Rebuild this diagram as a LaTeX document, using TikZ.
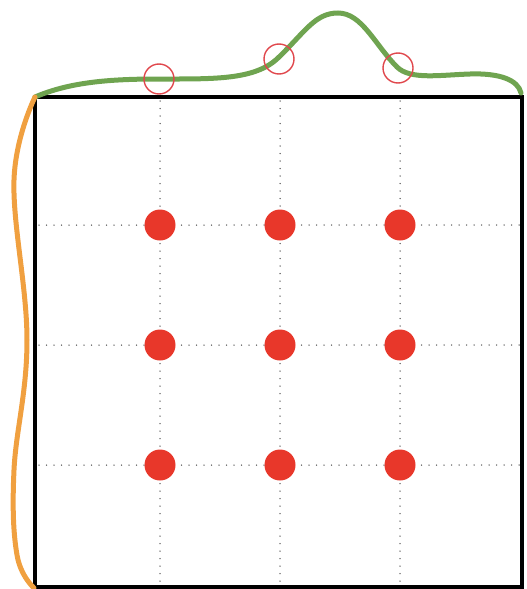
\documentclass[tikz,border=0pt]{standalone}
\usetikzlibrary{calc}
\definecolor{dotred}{HTML}{E8372A}
\definecolor{ringred}{HTML}{E0474C}
\definecolor{curvegreen}{HTML}{6FA450}
\definecolor{curveorange}{HTML}{F0A040}
\definecolor{gridgray}{HTML}{5A5A5A}
\begin{document}
\begin{tikzpicture}[x=1pt,y=-1pt,
  gridline/.style={gridgray,line width=1.5pt,line cap=round,dash pattern=on 0pt off 7.5pt},
  reddot/.style={circle,fill=dotred,inner sep=0pt,minimum size=31pt},
  ring/.style={circle,draw=ringred,line width=1.4pt,inner sep=0pt,minimum size=30pt},
  frame/.style={draw=black,line width=3.4pt},
  gcurve/.style={curvegreen,line width=5pt,line cap=round},
  ocurve/.style={curveorange,line width=5pt,line cap=round}]
\useasboundingbox (0,0) rectangle (527,589);
\coordinate (tl) at (35,97);
\coordinate (br) at (522,587);
% grid
\foreach \x in {160,280,400}
  \draw[gridline] (\x,101) -- (\x,587);
\foreach \y in {225,345,465}
  \draw[gridline] (39,\y) -- (522,\y);
% frame
\draw[frame] (tl) rectangle (br);
% dots
\foreach \x/\i in {160/1,280/2,400/3}
  \foreach \y/\j in {225/1,345/2,465/3}
    \node[reddot] (d\i\j) at (\x,\y) {};
% green curve
\draw[gcurve] (tl) .. controls (70,82) and (110,79) .. (159,79)
  .. controls (215,79) and (255,80) .. (278,58)
  .. controls (305,32) and (315,13) .. (338,13)
  .. controls (362,13) and (375,45) .. (397,67)
  .. controls (410,80) and (440,75) .. (470,74)
  .. controls (500,73) and (518,80) .. (521,93);
% orange curve
\draw[ocurve] plot[smooth,tension=0.65] coordinates {
  (35,97) (14,180) (27,340) (14,470) (17,555) (34,588)};
% rings
\node[ring] (r1) at (159,79) {};
\node[ring] (r2) at (279,59) {};
\node[ring] (r3) at (398,68) {};
\end{tikzpicture}
\end{document}
